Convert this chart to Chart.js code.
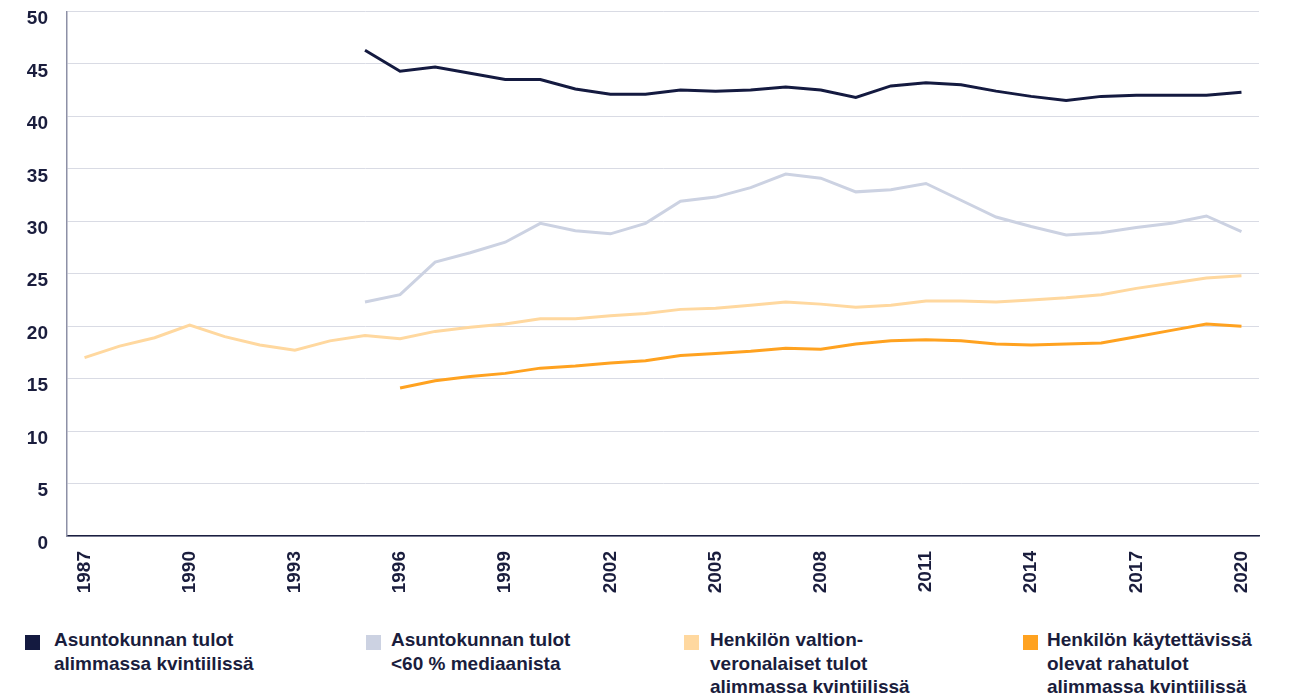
<!DOCTYPE html>
<html>
<head>
<meta charset="utf-8">
<script src="https://cdn.jsdelivr.net/npm/chart.js@4/dist/chart.umd.min.js"></script>
<style>
  body { margin: 0; background: #fff; font-family: "Liberation Sans", Arial, sans-serif; overflow: hidden; }
  #wrap { position: absolute; left: 0; top: -19px; width: 1291px; height: 639px; }
  .leg { position: absolute; top: 635px; }
  .box { position: absolute; width: 15px; height: 15px; top: 0; }
  .txt { position: absolute; top: -7px; font-weight: bold; font-size: 19px; line-height: 23.5px; color: #1a1d3d; white-space: nowrap; }
</style>
</head>
<body>
<div id="wrap"><canvas id="myChart"></canvas></div>
<div id="legend"></div>
<script>
const years = ['1987','1988','1989','1990','1991','1992','1993','1994','1995','1996','1997','1998','1999','2000','2001','2002','2003','2004','2005','2006','2007','2008','2009','2010','2011','2012','2013','2014','2015','2016','2017','2018','2019','2020'];

// 1995-2020
const asuntokuntaKvintiili = [null,null,null,null,null,null,null,null,
  46.3,44.3,44.7,44.1,43.5,43.5,42.6,42.1,42.1,42.5,42.4,42.5,42.8,42.5,41.8,42.9,43.2,43.0,42.4,41.9,41.5,41.9,42.0,42.0,42.0,42.3];
const asuntokuntaMediaani = [null,null,null,null,null,null,null,null,
  22.3,23.0,26.1,27.0,28.0,29.8,29.1,28.8,29.8,31.9,32.3,33.2,34.5,34.1,32.8,33.0,33.6,32.0,30.4,29.5,28.7,28.9,29.4,29.8,30.5,29.0];
// 1987-2020
const valtionVeronalaiset = [17.0,18.1,18.9,20.1,19.0,18.2,17.7,18.6,
  19.1,18.8,19.5,19.9,20.2,20.7,20.7,21.0,21.2,21.6,21.7,22.0,22.3,22.1,21.8,22.0,22.4,22.4,22.3,22.5,22.7,23.0,23.6,24.1,24.6,24.8];
// 1996-2020
const kaytettavissa = [null,null,null,null,null,null,null,null,null,
  14.1,14.8,15.2,15.5,16.0,16.2,16.5,16.7,17.2,17.4,17.6,17.9,17.8,18.3,18.6,18.7,18.6,18.3,18.2,18.3,18.4,19.0,19.6,20.2,20.0];

const seriesNames = [
  ['Asuntokunnan tulot', 'alimmassa kvintiilissä'],
  ['Asuntokunnan tulot', '<60 % mediaanista'],
  ['Henkilön valtion-', 'veronalaiset tulot', 'alimmassa kvintiilissä'],
  ['Henkilön käytettävissä', 'olevat rahatulot', 'alimmassa kvintiilissä']
];
const colors = ['#141a40', '#ccd2e2', '#ffd89f', '#ffa220'];
const legendBoxX = [25, 366, 684, 1023];
const legendTextX = [54, 391, 710, 1047];

const navy = '#1a1d3d';
const ctx = document.getElementById('myChart');

function ds(label, data, color) {
  return {
    label: label,
    data: data,
    borderColor: color,
    backgroundColor: color,
    borderWidth: 3,
    pointRadius: 0,
    tension: 0,
    fill: false
  };
}

let myChart = new Chart(ctx, {
  type: 'line',
  data: {
    labels: years,
    datasets: [
      ds(seriesNames[0].join(' '), asuntokuntaKvintiili, colors[0]),
      ds(seriesNames[1].join(' '), asuntokuntaMediaani, colors[1]),
      ds(seriesNames[2].join(' '), valtionVeronalaiset, colors[2]),
      ds(seriesNames[3].join(' '), kaytettavissa, colors[3])
    ]
  },
  options: {
    responsive: true,
    maintainAspectRatio: false,
    animation: false,
    layout: { padding: { top: 11, right: 32, left: 0, bottom: 0 } },
    plugins: {
      legend: { display: false },
      tooltip: { enabled: false }
    },
    scales: {
      x: {
        offset: true,
        grid: { display: false, drawTicks: false },
        border: { display: true, color: '#1b1f40', width: 1.5 },
        afterFit: function (s) { s.height = 84; },
        ticks: {
          autoSkip: false,
          minRotation: 90,
          maxRotation: 90,
          padding: 15,
          color: navy,
          font: { family: '"Liberation Sans", Arial, sans-serif', size: 19, weight: 'bold' },
          callback: function (value, index) {
            return index % 3 === 0 ? years[index] : '';
          }
        }
      },
      y: {
        min: 0,
        max: 50,
        grid: { color: '#d9dbe4', lineWidth: 1, drawTicks: false },
        border: { display: true, color: '#8d90a6', width: 1.5 },
        afterFit: function (s) { s.width = 67; },
        ticks: {
          stepSize: 5,
          padding: 19,
          labelOffset: 7.5,
          color: navy,
          font: { family: '"Liberation Sans", Arial, sans-serif', size: 19, weight: 'bold' }
        }
      }
    }
  }
});

// legend below the chart
const legendDiv = document.getElementById('legend');
seriesNames.forEach(function (lines, i) {
  const item = document.createElement('div');
  item.className = 'leg';
  item.style.left = '0px';
  const box = document.createElement('div');
  box.className = 'box';
  box.style.left = legendBoxX[i] + 'px';
  box.style.background = colors[i];
  const txt = document.createElement('div');
  txt.className = 'txt';
  txt.style.left = legendTextX[i] + 'px';
  txt.innerHTML = lines.map(function (l) { return l.replace('<', '&lt;'); }).join('<br>');
  item.appendChild(box);
  item.appendChild(txt);
  legendDiv.appendChild(item);
});
</script>
</body>
</html>
